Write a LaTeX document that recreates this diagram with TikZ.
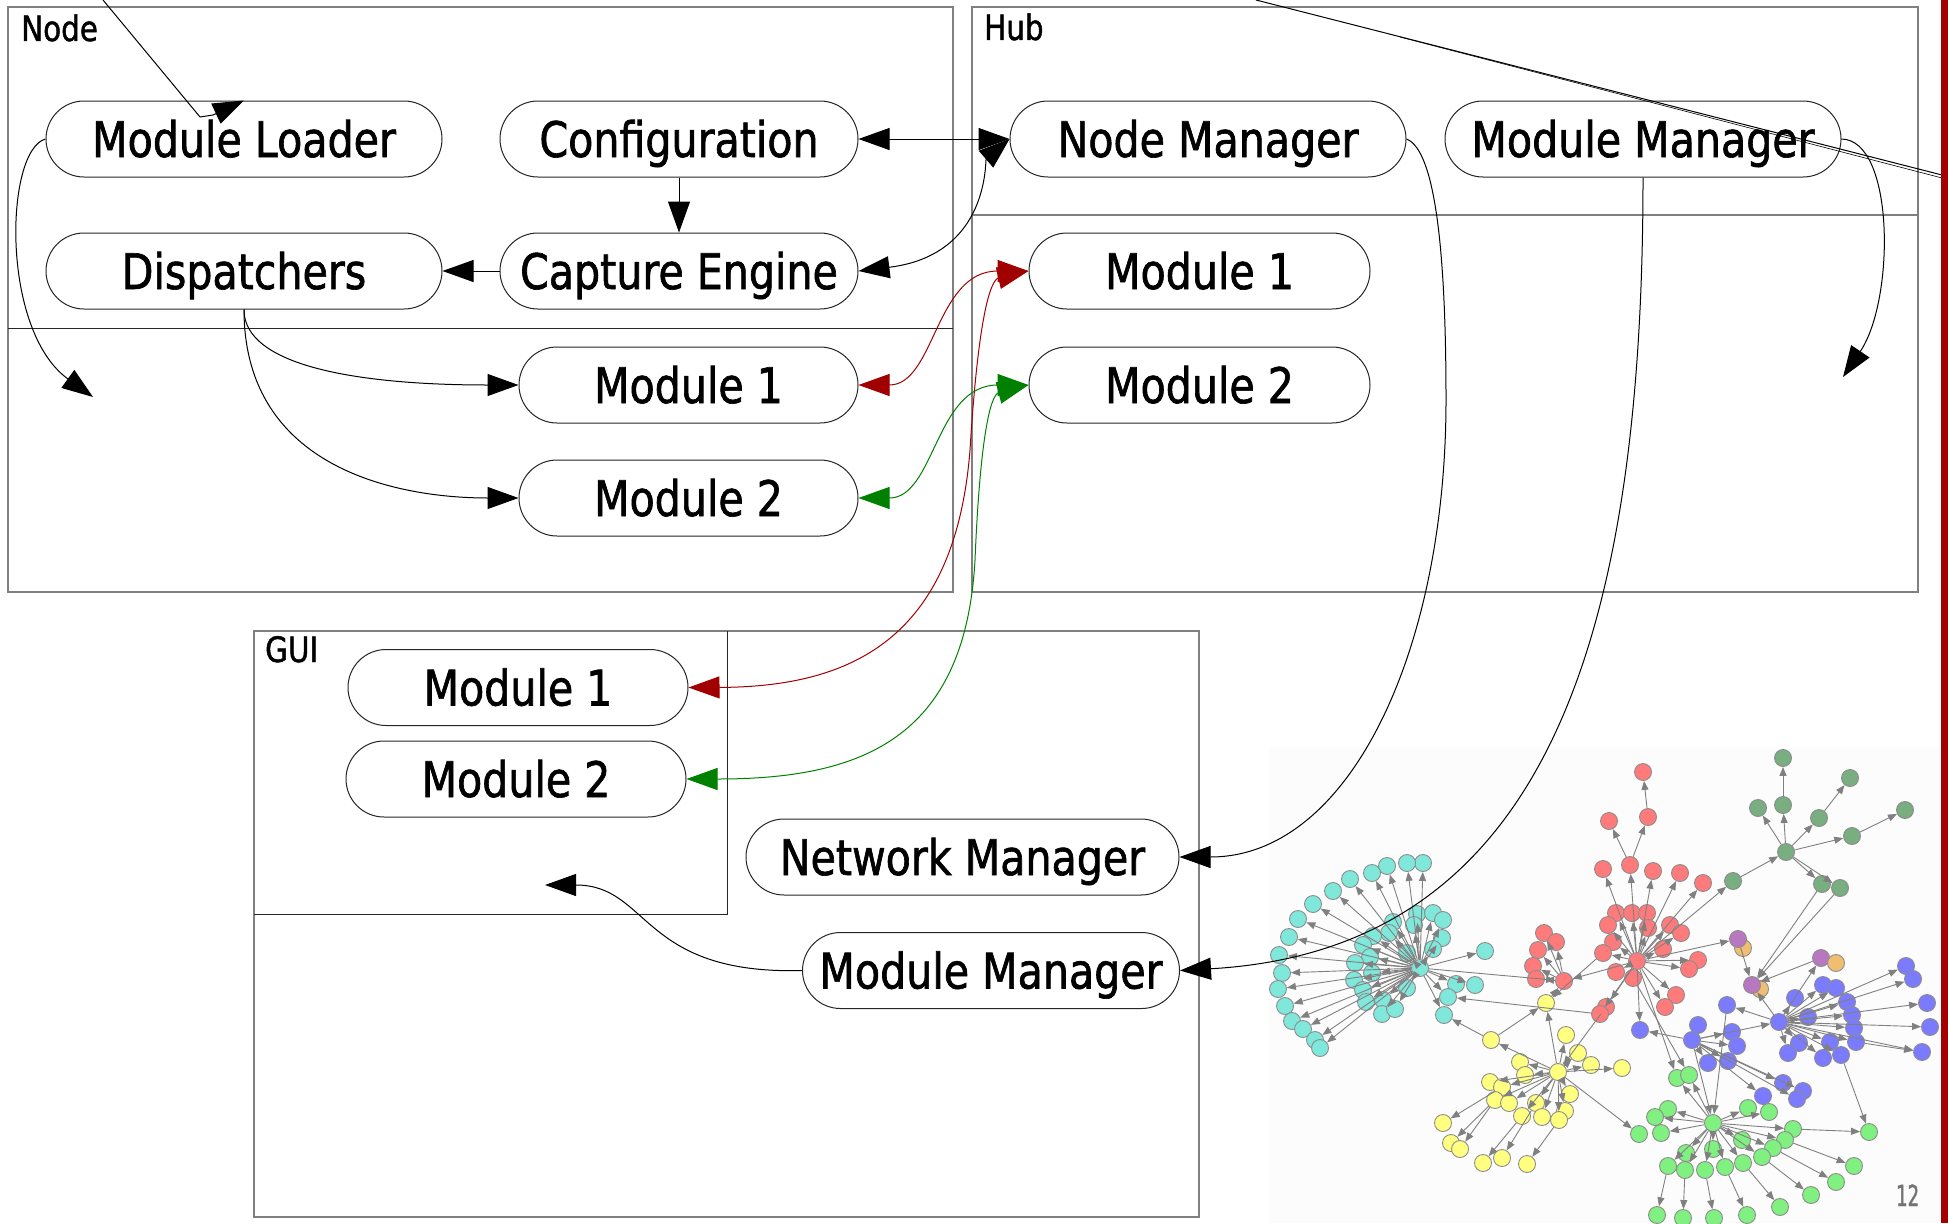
\documentclass[tikz,border=0pt]{standalone}
\usepackage{fontspec}
\newfontfamily\diafont{DejaVu Sans}[FakeStretch=0.84,FakeBold=1.3]
\newfontfamily\numfont{DejaVu Sans}[FakeStretch=0.62,FakeBold=1.4]
\usetikzlibrary{arrows.meta}

\definecolor{barred}{HTML}{A30000}
\definecolor{linkred}{HTML}{A00000}
\definecolor{linkgreen}{HTML}{008000}
\definecolor{gcyan}{HTML}{80E8DA}
\definecolor{gyellow}{HTML}{FFFF80}
\definecolor{gred}{HTML}{FF7B7B}
\definecolor{gsea}{HTML}{78AE80}
\definecolor{gblue}{HTML}{7B7BFF}
\definecolor{glime}{HTML}{80F080}
\definecolor{gpurple}{HTML}{B878C0}
\definecolor{gorange}{HTML}{F0BE70}
\definecolor{insetbg}{HTML}{FCFCFC}

\tikzset{
  box/.style={draw=black!85, line width=1pt, rounded corners=38pt,
    minimum height=76pt, inner sep=0pt, text height=36pt, text depth=0pt,
    font=\diafont\fontsize{49}{50}\selectfont},
  clabel/.style={anchor=base west, inner sep=0pt,
    font=\diafont\fontsize{35}{36}\selectfont},
  cluster/.style={draw=black!50, line width=1.4pt},
  part/.style={draw=black!85, line width=1pt},
  bigtip/.tip={Triangle[length=31pt,width=22pt]},
  big/.style={-bigtip, line width=1pt},
  bigboth/.style={bigtip-bigtip, line width=1pt},
  gnode/.style={circle, draw=black!45, line width=0.9pt, minimum size=17pt, inner sep=0pt},
  gedge/.style={draw=black!50, line width=0.9pt, -{Triangle[length=9pt,width=7pt]}},
}

\begin{document}
\begin{tikzpicture}[x=1pt,y=-1pt]
\useasboundingbox (0,0) rectangle (1948,1223);
\fill[white] (0,0) rectangle (1948,1223);

% ---------- network graph inset ----------
\fill[insetbg] (1269,748) rectangle (1941,1223);

\foreach \n/\x/\y in {c1/1423/863,c2/1407/863,c3/1387/866,c4/1372/873,c5/1350/879,
  c6/1333/891,c7/1313/904,c8/1298/919,c9/1289/937,c10/1279/955,c11/1282/973,
  c12/1278/989,c13/1285/1006,c14/1292/1021,c15/1303/1029,c16/1315/1040,c17/1320/1048,
  c18/1417/914,c19/1433/913,c20/1443/920,c21/1442/938,c22/1433/949,c23/1407/953,
  c24/1414/925,c25/1393/922,c26/1389/933,c27/1373/936,c28/1363/945,c29/1370/957,
  c30/1355/963,c31/1372/973,c32/1354/980,c33/1363/990,c34/1366/1002,c35/1383/1000,
  c36/1382/1014,c37/1395/1009,c38/1407/988,c39/1456/984,c40/1475/985,c41/1448/997,
  c42/1444/1015,c43/1485/951,c0/1420/968}
  \node[gnode, fill=gcyan] (\n) at (\x,\y) {};

\foreach \n/\x/\y in {y1/1546/1003,y2/1491/1040,y3/1566/1035,y4/1578/1053,y5/1591/1065,
  y6/1622/1068,y7/1520/1062,y8/1525/1075,y9/1490/1082,y10/1502/1087,y11/1495/1100,
  y12/1509/1103,y13/1536/1103,y14/1570/1094,y15/1522/1116,y16/1542/1117,y17/1565/1111,
  y18/1559/1120,y19/1443/1123,y20/1451/1143,y21/1460/1149,y22/1483/1163,y23/1502/1158,
  y24/1527/1164,y0/1558/1072}
  \node[gnode, fill=gyellow] (\n) at (\x,\y) {};

\foreach \n/\x/\y in {r2/1643/772,r3/1648/817,r4/1609/821,r5/1630/865,r6/1603/869,
  r7/1653/871,r8/1680/873,r9/1703/883,r10/1616/913,r11/1632/913,r12/1647/913,
  r13/1608/925,r14/1648/928,r15/1670/925,r16/1681/933,r17/1613/942,r18/1663/949,
  r19/1603/953,r20/1616/972,r21/1633/978,r22/1698/960,r23/1689/969,r24/1676/995,
  r25/1665/1007,r26/1606/1007,r27/1600/1014,r28/1544/933,r29/1556/942,r30/1538/950,
  r31/1533/966,r32/1536/979,r1/1564/981,r0/1637/961}
  \node[gnode, fill=gred] (\n) at (\x,\y) {};

\foreach \n/\x/\y in {g1/1783/758,g2/1850/778,g3/1758/808,g4/1783/805,g5/1819/818,
  g6/1905/810,g7/1852/836,g8/1733/881,g9/1822/884,g10/1840/888,g0/1786/852}
  \node[gnode, fill=gsea] (\n) at (\x,\y) {};

\node[gnode, fill=gorange] (o1) at (1743,948) {};
\node[gnode, fill=gpurple] (p1) at (1738,939) {};
\node[gnode, fill=gpurple] (p2) at (1821,958) {};
\node[gnode, fill=gorange] (o2) at (1836,963) {};
\node[gnode, fill=gorange] (o3) at (1760,989) {};
\node[gnode, fill=gpurple] (p3) at (1752,985) {};

\foreach \n/\x/\y in {b1/1906/966,b2/1913/979,b3/1927/1003,b4/1930/1027,b5/1922/1052,
  b6/1823/985,b7/1836/988,b8/1795/998,b9/1847/1002,b10/1852/1015,b11/1808/1017,
  b12/1727/1005,b13/1854/1028,b14/1856/1042,b15/1830/1042,b16/1799/1043,b17/1788/1053,
  b18/1823/1058,b19/1841/1055,b20/1640/1030,b21/1698/1025,b23/1732/1032,b24/1737/1046,
  b25/1708/1063,b26/1728/1061,b27/1783/1083,b28/1803/1091,b29/1763/1096,b30/1797/1099,
  b22/1692/1040,b0/1779/1022}
  \node[gnode, fill=gblue] (\n) at (\x,\y) {};

\foreach \n/\x/\y in {l1/1677/1078,l2/1689/1075,l3/1668/1109,l4/1655/1117,l5/1639/1134,
  l6/1661/1133,l7/1748/1108,l8/1769/1112,l9/1793/1129,l10/1785/1140,l11/1773/1148,
  l12/1869/1132,l13/1742/1140,l14/1762/1157,l15/1743/1163,l16/1725/1167,l17/1705/1170,
  l18/1713/1149,l19/1686/1153,l20/1685/1170,l21/1668/1166,l22/1854/1166,l23/1836/1182,
  l24/1811/1195,l25/1780/1207,l26/1747/1215,l27/1714/1218,l28/1683/1218,l29/1657/1215,
  l0/1713/1123}
  \node[gnode, fill=glime] (\n) at (\x,\y) {};

% graph edges
\foreach \i in {1,...,43} \draw[gedge] (c0) -- (c\i);
\foreach \i in {1,3,4,5,6,7,8,9,10,11,12,13,14,15,16,17,18,2} \draw[gedge] (y0) -- (y\i);
\foreach \i in {5,6,7,8,9,10,11,12,13,14,15,16,17,18,19,20,22,23,24,25,26,27,1}
  \draw[gedge] (r0) -- (r\i);
\foreach \i in {28,29,30,31,32} \draw[gedge] (r1) -- (r\i);
\foreach \i in {3,4,5,7,9,10} \draw[gedge] (g0) -- (g\i);
\foreach \i in {1,...,19} \draw[gedge] (b0) -- (b\i);
\foreach \i in {20,23,24,25,26,27,28,29,30} \draw[gedge] (b22) -- (b\i);
\foreach \i in {1,2,3,4,6,7,8,9,10,11,13,14,15,16,17,18,19,20,21} \draw[gedge] (l0) -- (l\i);
\foreach \a/\b in {y2/y1,y2/c42,y10/y19,y11/y20,y11/y21,y15/y22,y13/y23,y18/y24,
  y1/r1,c0/r1,r27/c41,y0/l5,r26/y0,r5/r3,r3/r2,r5/r4,r0/g8,g8/g0,g4/g1,g5/g2,g7/g6,
  g9/p3,g10/p3,r0/p1,p1/p3,p2/p3,b0/p3,b0/p2,b22/b0,b22/l0,r0/b20,b14/b5,
  l10/l22,l11/l23,l14/l24,l15/l25,l16/l26,l17/l27,l20/l28,l21/l29,l9/l12,b19/l12,
  r0/l1,r21/l2,b12/l0,r19/y1}
  \draw[gedge] (\a) -- (\b);

\node[anchor=base west, inner sep=0pt, text=black!55, font=\numfont\fontsize{29}{30}\selectfont]
  (pagenum) at (1896,1206) {12};

% ---------- clusters ----------
\draw[cluster] (8,7) rectangle (953,592);
\draw[part] (8,328) -- (953,328);
\draw[cluster] (972,7) rectangle (1918,592);
\draw[cluster] (972,215) -- (1918,215);
\draw[cluster] (254,631) rectangle (1199,1217);
\draw[part] (727,631) -- (727,914) -- (254,914);

\node[clabel] (lblnode) at (21,41) {Node};
\node[clabel] (lblhub) at (984,40) {Hub};
\node[clabel] (lblgui) at (265,662) {GUI};

% ---------- components ----------
\node[box, minimum width=396pt] (ml)   at (244,139)   {Module Loader};
\node[box, minimum width=358pt] (cfg)  at (679,139)   {Configuration};
\node[box, minimum width=396pt] (disp) at (244,271)   {Dispatchers};
\node[box, minimum width=358pt] (cap)  at (679,271)   {Capture Engine};
\node[box, minimum width=339pt] (nm1)  at (688.5,385) {Module 1};
\node[box, minimum width=339pt] (nm2)  at (688.5,498) {Module 2};
\node[box, minimum width=396pt] (nmgr) at (1208,139)  {Node Manager};
\node[box, minimum width=396pt] (hmm)  at (1643,139)  {Module Manager};
\node[box, minimum width=341pt] (hm1)  at (1199.5,271) {Module 1};
\node[box, minimum width=341pt] (hm2)  at (1199.5,385) {Module 2};
\node[box, minimum width=340pt] (gm1)  at (518,687.5) {Module 1};
\node[box, minimum width=340pt] (gm2)  at (516,779)   {Module 2};
\node[box, minimum width=433pt] (netm) at (962.5,857) {Network Manager};
\node[box, minimum width=377pt] (gmm)  at (991,970.5) {Module Manager};

\coordinate (nodetarget) at (93,397);
\coordinate (hubtarget) at (1843,377);
\coordinate (guitarget) at (545,885);

% ---------- connectors ----------
\draw[big] (cfg.south) -- (cap.north);
\draw[big] (cap.west) -- (disp.east);
\draw[bigboth] (cfg.east) -- (nmgr.west);
\draw[bigboth] (cap.east) .. controls (990,255) and (985,160) .. (nmgr.west);
\draw[big] (disp.south) .. controls (244,380) and (420,385) .. (nm1.west);
\draw[big] (disp.south) .. controls (244,470) and (400,498) .. (nm2.west);
\draw[big] (ml.west) .. controls (5,150) and (0,330) .. (nodetarget);

\draw[bigboth, linkred] (nm1.east) .. controls (935,385) and (935,271) .. (hm1.west);
\draw[bigboth, linkred] (hm1.west) .. controls (990,280) and (978,320) .. (970,450)
  .. controls (955,640) and (850,687) .. (gm1.east);
\draw[bigboth, linkgreen] (nm2.east) .. controls (935,498) and (935,385) .. (hm2.west);
\draw[bigboth, linkgreen] (hm2.west) .. controls (990,395) and (980,440) .. (975,560)
  .. controls (965,740) and (860,779) .. (gm2.east);

\draw[big] (nmgr.east) .. controls (1435,150) and (1446,250) .. (1446,400)
  .. controls (1446,650) and (1350,857) .. (netm.east);
\draw[big] (hmm.south) .. controls (1643,650) and (1540,950) .. (gmm.east);
\draw[big] (hmm.east) .. controls (1895,140) and (1895,300) .. (hubtarget);
\draw[big] (gmm.west) .. controls (640,975) and (650,885) .. (guitarget);

% pointer lines running in from the page edge
\draw[big] (103,0) -- (200,117) -- (213,115) -- (ml.north);
\draw[line width=1pt] (1256,0) -- (1942,175);
\draw[line width=0.6pt] (1400,37) -- (1942,178);

% side bar
\fill[barred] (1941,0) rectangle (1948,1223);
\end{tikzpicture}
\end{document}
